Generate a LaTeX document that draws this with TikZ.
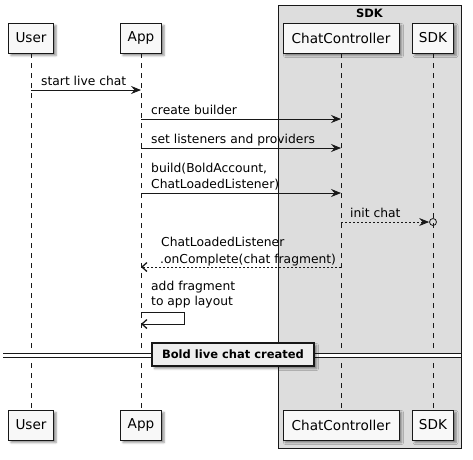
\documentclass[tikz,border=0pt]{standalone}
\usepackage{fontspec}
\setmainfont{DejaVu Sans}
\usetikzlibrary{arrows.meta,shadows,shadows.blur}
\definecolor{partfill}{HTML}{F8F8F8}
\definecolor{grpfill}{HTML}{DDDDDD}
\definecolor{divfill}{HTML}{EEEEEE}
\definecolor{ink}{HTML}{181818}
\begin{document}
\begin{tikzpicture}[x=1pt,y=-1pt,
  part/.style={draw=ink, fill=partfill, line width=0.9pt, minimum height=30pt, inner sep=0pt,
    font=\fontsize{13.6}{16}\selectfont,
    blur shadow={shadow xshift=2.5pt, shadow yshift=-2.5pt, shadow blur radius=2pt, shadow opacity=45}},
  lifeline/.style={draw=ink, line width=0.6pt, dash pattern=on 5pt off 5pt},
  msg/.style={draw=ink, line width=0.8pt, -{Stealth[length=10pt,width=8pt,inset=3.5pt]}},
  msgdash/.style={draw=ink, line width=0.8pt, dash pattern=on 2pt off 2pt, -{Stealth[length=10pt,width=8pt,inset=3.5pt]}},
  ret/.style={draw=ink, line width=0.8pt, dash pattern=on 2pt off 2pt, -{Straight Barb[length=5pt,width=9pt,line width=1.3pt]}},
  selfmsg/.style={draw=ink, line width=0.8pt, -{Straight Barb[length=5pt,width=9pt,line width=1.3pt]}},
  lbl/.style={anchor=base west, inner sep=0pt, font=\fontsize{12.3}{15}\selectfont},
  grptitle/.style={inner sep=0pt, font=\bfseries\fontsize{11.5}{14}\selectfont},
  divbox/.style={draw=ink, fill=divfill, line width=1.5pt, minimum width=162pt, minimum height=23pt, inner sep=0pt,
    font=\bfseries\fontsize{11.5}{14}\selectfont,
    blur shadow={shadow xshift=2.5pt, shadow yshift=-2.5pt, shadow blur radius=2pt, shadow opacity=45}},
]
\useasboundingbox (0,0) rectangle (473,459);

% group
\draw[draw=ink, fill=grpfill, line width=0.8pt] (278,5) rectangle (461,448);
\node[grptitle] (grpT) at (369.5,13.5) {SDK};

% participants
\node[part, minimum width=45pt] (uT) at (31,38) {User};
\node[part, minimum width=41pt] (aT) at (141,38) {App};
\node[part, minimum width=116pt] (cT) at (341,38) {ChatController};
\node[part, minimum width=41pt] (sT) at (433,38) {SDK};
\node[part, minimum width=45pt] (uB) at (31,425) {User};
\node[part, minimum width=41pt] (aB) at (141,425) {App};
\node[part, minimum width=116pt] (cB) at (341,425) {ChatController};
\node[part, minimum width=41pt] (sB) at (433,425) {SDK};

% lifelines
\draw[lifeline] (uT.south) -- (uB.north);
\draw[lifeline] (aT.south) -- (aB.north);
\draw[lifeline] (cT.south) -- (cB.north);
\draw[lifeline] (sT.south) -- (sB.north);

% message rows
\coordinate (m1) at (0,90);
\coordinate (m2) at (0,119);
\coordinate (m3) at (0,148);
\coordinate (m4) at (0,193);
\coordinate (m5) at (0,222);
\coordinate (m6) at (0,267);
\coordinate (s1) at (0,312);
\coordinate (s2) at (0,324);
\coordinate (sc1) at (184,312);
\coordinate (sc2) at (184,324);

\draw[msg] (uT |- m1) -- (aT |- m1);
\node[lbl] (t1) at (41,85) {start live chat};

\draw[msg] (aT |- m2) -- (cT |- m2);
\node[lbl] (t2) at (151,114.5) {create builder};

\draw[msg] (aT |- m3) -- (cT |- m3);
\node[lbl] (t3) at (151,143.5) {set listeners and providers};

\draw[msg] (aT |- m4) -- (cT |- m4);
\node[lbl] (t4a) at (151,172) {build(BoldAccount,};
\node[lbl] (t4b) at (151,188.5) {ChatLoadedListener)};

\node[circle, draw=ink, line width=0.8pt, minimum size=7pt, inner sep=0pt] (ic) at (sT |- m5) {};
\draw[msgdash] (cT |- m5) -- (ic.west);
\node[lbl] (t5) at (350,217.5) {init chat};

\draw[ret] (cT |- m6) -- (aT |- m6);
\node[lbl] (t6a) at (161,246.5) {ChatLoadedListener};
\node[lbl] (t6b) at (160,263) {.onComplete(chat fragment)};

\draw[selfmsg] (aT |- s1) -- (sc1) -- (sc2) -- (aT |- s2);
\node[lbl] (t7a) at (151,290.5) {add fragment};
\node[lbl] (t7b) at (151,305.5) {to app layout};

% divider
\coordinate (dl) at (3,353);
\coordinate (dr) at (461,357);
\fill[white] (dl) rectangle (dr);
\draw[ink, line width=0.9pt] (dl) -- (dl -| dr);
\draw[ink, line width=0.9pt] (dl |- dr) -- (dr);
\node[divbox] (div) at (233,354.5) {Bold live chat created};
\end{tikzpicture}
\end{document}
